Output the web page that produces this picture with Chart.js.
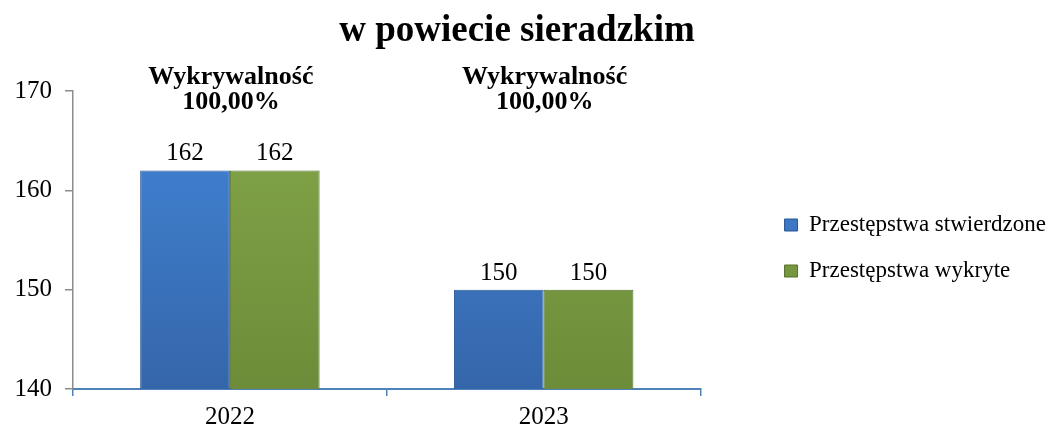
<!DOCTYPE html>
<html>
<head>
<meta charset="utf-8">
<script src="https://cdn.jsdelivr.net/npm/chart.js@4"></script>
<style>
  html, body { margin: 0; padding: 0; background: #fff; }
  #wrap { width: 1056px; height: 431px; position: relative; }
</style>
</head>
<body>
<div id="wrap"><canvas id="c" width="1056" height="431"></canvas></div>
<script>
const titleText = 'w powiecie sieradzkim';
const categories = ['2022', '2023'];
const stwierdzone = [162, 150];
const wykryte = [162, 150];
const rateTitle = 'Wykrywalność';
const rates = ['100,00%', '100,00%'];
const seriesNames = ['Przestępstwa stwierdzone', 'Przestępstwa wykryte'];
const yTicks = [140, 150, 160, 170];

const FONT = '"Liberation Serif", "Times New Roman", serif';

function grad(ctx, top, bottom) {
  const chart = ctx.chart;
  const ca = chart.chartArea;
  if (!ca) return top;
  const g = chart.ctx.createLinearGradient(0, ca.top, 0, ca.bottom);
  g.addColorStop(0, top);
  g.addColorStop(1, bottom);
  return g;
}

// let the right-hand legend be as wide as its text needs, and sit a bit higher
const legendFix = {
  id: 'legendFix',
  beforeLayout(chart) {
    const lg = chart.legend;
    if (lg && !lg._wideFix) {
      const f = lg.fit;
      lg.fit = function () { this.maxWidth = 400; f.call(this); };
      lg._wideFix = true;
    }
  },
  afterLayout(chart) {
    const lg = chart.legend;
    if (lg) { lg.top -= 13; lg.bottom -= 13; }
  }
};

const overlay = {
  id: 'overlay',
  afterDatasetsDraw(chart) {
    const c = chart.ctx;
    const x = chart.scales.x;
    c.save();
    c.fillStyle = '#000';
    c.textAlign = 'center';
    c.textBaseline = 'alphabetic';
    // data labels
    c.font = '25px ' + FONT;
    chart.data.datasets.forEach((ds, di) => {
      const meta = chart.getDatasetMeta(di);
      meta.data.forEach((bar, i) => {
        c.fillText(String(ds.data[i]), bar.x, bar.y - 10);
      });
    });
    // rate annotations
    c.font = 'bold 26px ' + FONT;
    categories.forEach((cat, i) => {
      const px = x.getPixelForValue(i) + 1;
      c.fillText(rateTitle, px, 84);
      c.fillText(rates[i], px, 109);
    });
    // title
    c.font = 'bold 37px ' + FONT;
    c.fillText(titleText, 517, 41);
    c.restore();
  }
};

new Chart(document.getElementById('c'), {
  type: 'bar',
  data: {
    labels: categories,
    datasets: [
      {
        label: seriesNames[0],
        data: stwierdzone,
        backgroundColor: (ctx) => grad(ctx, '#4286D8', '#3566AA'),
        borderColor: '#2B5794',
        borderWidth: 1,
        categoryPercentage: 0.572,
        barPercentage: 1.0
      },
      {
        label: seriesNames[1],
        data: wykryte,
        backgroundColor: (ctx) => grad(ctx, '#84A74A', '#6D8C39'),
        borderColor: '#56712C',
        borderWidth: 1,
        categoryPercentage: 0.572,
        barPercentage: 1.0
      }
    ]
  },
  options: {
    responsive: false,
    animation: false,
    devicePixelRatio: 1,
    layout: { padding: { top: 91, left: 0, right: 0, bottom: 0 } },
    plugins: {
      title: { display: false },
      tooltip: { enabled: false },
      legend: {
        display: true,
        position: 'right',
        align: 'center',
        labels: {
          color: '#000',
          font: { family: FONT, size: 23 },
          boxWidth: 13,
          boxHeight: 12,
          padding: 23
        }
      }
    },
    scales: {
      x: {
        grid: {
          display: true,
          drawOnChartArea: false,
          drawTicks: true,
          tickLength: 7,
          color: '#4F81BD',
          lineWidth: 1.5,
          offset: true
        },
        border: { display: true, color: '#4F81BD', width: 2 },
        ticks: {
          color: '#000',
          font: { family: FONT, size: 25 },
          padding: 6
        },
        afterFit(s) { s.height = 42; }
      },
      y: {
        min: 140,
        max: 170,
        afterBuildTicks(s) { s.ticks = yTicks.map(v => ({ value: v })); },
        grid: {
          display: true,
          drawOnChartArea: false,
          drawTicks: true,
          tickLength: 8,
          color: '#8C8C8C',
          lineWidth: 1.5
        },
        border: { display: true, color: '#8C8C8C', width: 1.5 },
        ticks: {
          color: '#000',
          font: { family: FONT, size: 25 },
          padding: 13
        },
        afterFit(s) { s.width = 73; }
      },
      gap: {
        type: 'linear',
        position: 'right',
        display: true,
        grid: { display: false },
        border: { display: false },
        ticks: { display: false },
        afterFit(s) { s.width = 61; }
      }
    }
  },
  plugins: [legendFix, overlay]
});
</script>
</body>
</html>
